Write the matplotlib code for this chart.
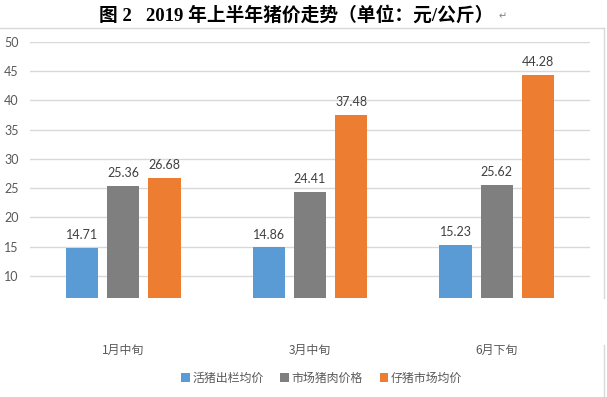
import numpy as np
import matplotlib.pyplot as plt

# data
periods = ["1月中旬", "3月中旬", "6月下旬"]
live_pig = [14.71, 14.86, 15.23]       # 活猪出栏均价
pork = [25.36, 24.41, 25.62]           # 市场猪肉价格
piglet = [26.68, 37.48, 44.28]         # 仔猪市场均价
series_names = ["活猪出栏均价", "市场猪肉价格", "仔猪市场均价"]
y_ticks = [10, 15, 20, 25, 30, 35, 40, 45, 50]

colors = ["#5B9BD5", "#7F7F7F", "#ED7D31"]
text_col = "#595959"
cjk = ["Noto Sans CJK SC", "DejaVu Sans"]

fig = plt.figure(figsize=(6.07, 3.97), dpi=100)
ax_h = 297.5 - 42
ax = fig.add_axes([30 / 607, 1 - 297.5 / 397, 560 / 607, ax_h / 397])

x = np.arange(len(periods))
w = 32 / 186   # bar width as fraction of category
step = 41 / 186
for i, vals in enumerate([live_pig, pork, piglet]):
    pos = x + (i - 1) * step
    ax.bar(pos, vals, width=w, color=colors[i], label=series_names[i], zorder=3)
    for p, v in zip(pos, vals):
        ax.annotate(f"{v:.2f}", (p, v), xytext=(0, 5), textcoords="offset points",
                    ha="center", va="bottom", fontsize=9, color="#404040", family="Lato")

ax.set_xlim(-0.5, len(periods) - 0.5)
ax.set_ylim(6.3, 50)
ax.set_yticks(y_ticks)
ax.set_yticklabels([str(t) for t in y_ticks], family="Lato", fontsize=9, color=text_col)
ax.tick_params(axis="y", length=0, pad=8)
ax.set_xticks([])
ax.grid(axis="y", color="#D9D9D9", linewidth=1, zorder=0)
for s in ax.spines.values():
    s.set_visible(False)

# category labels sit well below the plot area
for xi, name in zip(x, periods):
    ax.text(xi, -52.5 / ax_h, name, transform=ax.get_xaxis_transform(),
            ha="center", va="center", fontsize=8.6, color=text_col, family=cjk)

leg = fig.legend(loc="center", bbox_to_anchor=(321.5 / 607, 1 - 378 / 397), ncol=3,
                 frameon=False, handlelength=0.75, handleheight=0.75, handletextpad=0.2,
                 columnspacing=1.4, prop={"family": cjk, "size": 8.6})
for t in leg.get_texts():
    t.set_color(text_col)

# chart frame (top and right edges visible in the crop)
fig.add_artist(plt.Line2D([0, 604 / 607], [1 - 28 / 397] * 2, color="#D9D9D9", lw=1))
fig.add_artist(plt.Line2D([604 / 607] * 2, [1 - 28 / 397, 1 - 298 / 397], color="#D9D9D9", lw=1))
fig.add_artist(plt.Line2D([604 / 607] * 2, [1 - 345 / 397, 0], color="#D9D9D9", lw=1))

# document caption above the chart
fig.text(296.5 / 607, 1 - 15 / 397, "图 2   2019 年上半年猪价走势（单位：元/公斤）",
         ha="center", va="center", fontsize=13.5, fontweight="bold",
         family=["Liberation Serif", "Noto Sans CJK SC"], color="black")
fig.text(503 / 607, 1 - 16 / 397, "↵", ha="center", va="center", fontsize=7,
         color="#808080", family="DejaVu Sans")

fig.savefig("out.png", dpi=100)
